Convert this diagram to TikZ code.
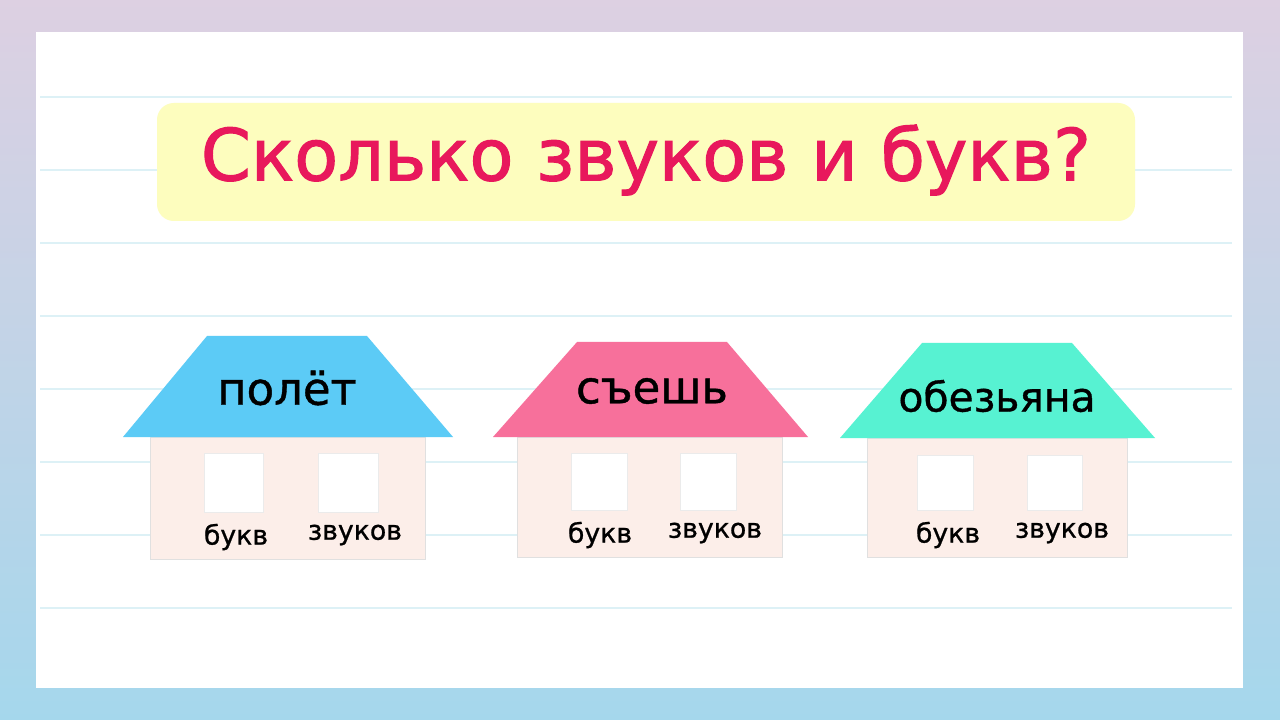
\documentclass[tikz,border=0pt]{standalone}
\usepackage{fontspec}
\setmainfont{DejaVu Sans}
\newfontfamily\heavyfont[FakeBold=1.6]{DejaVu Sans}
\newfontfamily\midfont[FakeBold=0.9]{DejaVu Sans}
\usepackage{tikz}
\usetikzlibrary{calc}
\definecolor{bgtop}{HTML}{DDD0E2}
\definecolor{bgmid}{HTML}{C9DAF6}
\definecolor{bgbot}{HTML}{A5D7EC}
\definecolor{ruleblue}{HTML}{DDF1F6}
\definecolor{titlebg}{HTML}{FDFDBE}
\definecolor{titlered}{HTML}{E8185C}
\definecolor{wallpink}{HTML}{FCEEE9}
\definecolor{roofblue}{HTML}{5CCBF6}
\definecolor{roofpink}{HTML}{F7709B}
\definecolor{roofgreen}{HTML}{57F2D2}
\tikzset{
	roofword/.style={font=\midfont\fontsize{32}{32}\selectfont, text=black, inner sep=0pt},
	boxword/.style={font=\midfont\fontsize{19}{19}\selectfont, text=black, inner sep=0pt},
	wall/.style={fill=wallpink, draw=black!12, line width=0.6pt},
	window/.style={fill=white, draw=black!8, line width=0.4pt}
}

\begin{document}
\begin{tikzpicture}[x=0.025cm, y=-0.025cm]
			%%%%% START %%%%%
			\useasboundingbox (0, 0) rectangle (1280, 720);
			\shade[top color=bgtop, middle color=bgmid, bottom color=bgbot] (0, 0) rectangle (1280, 720);
			
			\fill[white] (36, 32) rectangle (1243, 688);
			\foreach \y in {97, 170, 243, 316, 389, 462, 535, 608}
				\draw[ruleblue, line width=0.9pt] (40, \y) -- (1232, \y);
			
			\draw[fill=titlebg, draw=none, rounded corners=12] (157, 103) rectangle (1135, 221);
			\node[font=\heavyfont\fontsize{51}{51}\selectfont, text=titlered, inner sep=0pt] (title) at (646, 160) {Сколько звуков и букв?};
			
			% house 1
			\draw[wall] (150, 437) rectangle (425, 559);
			\fill[roofblue] (123, 437) -- (207, 336) -- (367, 336) -- (453, 437) -- cycle;
			\node[roofword] (word1) at (287, 388) {полёт};
			\draw[window] (204, 453) rectangle (263, 512);
			\draw[window] (318, 453) rectangle (378, 512);
			\node[boxword] (letters1) at (236, 537) {букв};
			\node[boxword] (sounds1) at (355, 535) {звуков};
			
			% house 2
			\draw[wall] (517, 437) rectangle (782, 557);
			\fill[roofpink] (493, 437) -- (577, 342) -- (727, 342) -- (808, 437) -- cycle;
			\node[roofword] (word2) at (652, 391) {съешь};
			\draw[window] (571, 453) rectangle (627, 510);
			\draw[window] (680, 453) rectangle (736, 510);
			\node[boxword] (letters2) at (600, 535) {букв};
			\node[boxword] (sounds2) at (715, 533) {звуков};
			
			% house 3
			\draw[wall] (867, 438) rectangle (1127, 557);
			\fill[roofgreen] (840, 438) -- (922, 343) -- (1072, 343) -- (1155, 438) -- cycle;
			\node[roofword, font=\midfont\fontsize{29}{29}\selectfont] (word3) at (997, 396) {обезьяна};
			\draw[window] (917, 455) rectangle (973, 510);
			\draw[window] (1027, 455) rectangle (1082, 510);
			\node[boxword] (letters3) at (948, 535) {букв};
			\node[boxword] (sounds3) at (1062, 533) {звуков};
			%%%%% END %%%%%
\end{tikzpicture}
\end{document}
